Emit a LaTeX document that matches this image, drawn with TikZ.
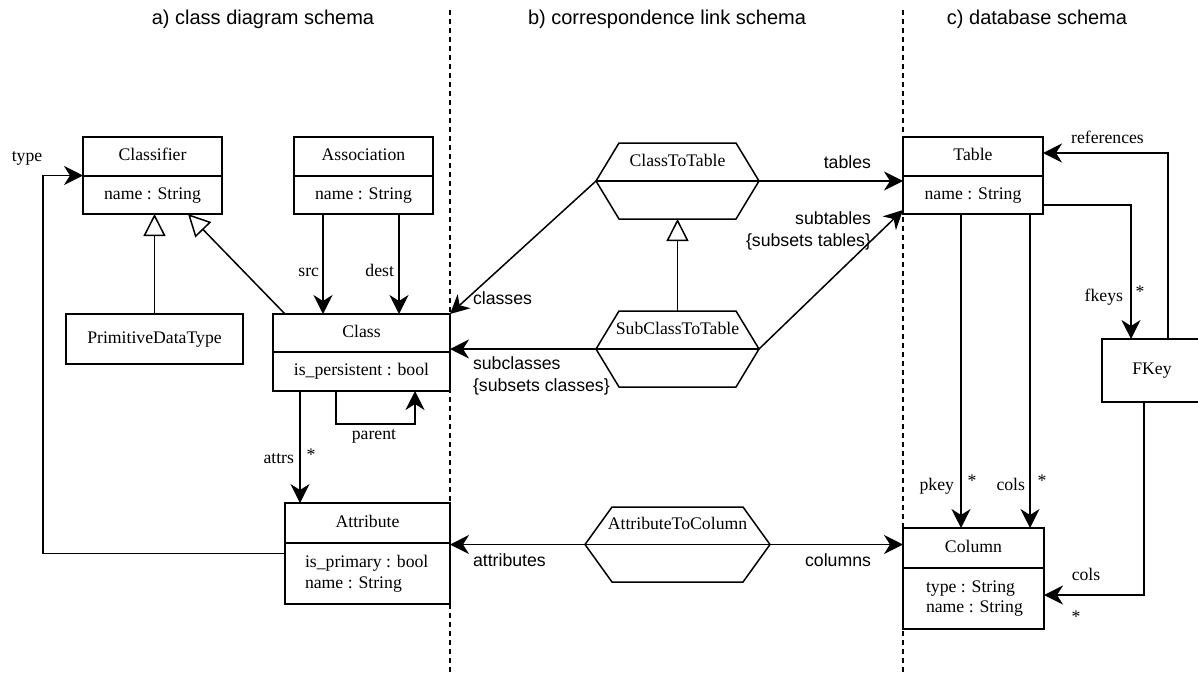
\documentclass[tikz,border=0pt]{standalone}
\usepackage{fontspec}
\setmainfont{Liberation Serif}
\setsansfont{Liberation Sans}
\usetikzlibrary{arrows.meta,calc}
\newcommand\hexdraw[2]{%
  \draw (#1.west) -- ($(#1.north west)+(#2,0)$) -- ($(#1.north east)+(-#2,0)$) -- (#1.east)
        -- ($(#1.south east)+(-#2,0)$) -- ($(#1.south west)+(#2,0)$) -- cycle;
  \draw (#1.west) -- (#1.east);}
\begin{document}
\begin{tikzpicture}[x=1pt,y=-1pt,
  line width=1.5pt,
  every node/.style={inner sep=0pt, outer sep=0pt},
  serif/.style={font=\fontsize{17.7}{21}\selectfont, text height=12.2pt, text depth=3.8pt},
  sans/.style={font=\sffamily\fontsize{17.7}{21}\selectfont, text height=12.7pt, text depth=3.7pt},
  title/.style={font=\sffamily\fontsize{20}{24}\selectfont},
  umlbox/.style={draw, rectangle},
  hexnode/.style={rectangle},
  arr/.style={-{Stealth[length=19pt,width=19pt,inset=6pt]}},
  gen/.style={-{Triangle[length=22pt,width=22pt,fill=white]}},
  divider/.style={dash pattern=on 5pt off 4pt},
]
\useasboundingbox (0,0) rectangle (1198,673);

% titles and separators
\node[title] (ta) at (263,19) {a) class diagram schema};
\node[title] (tb) at (667,19) {b) correspondence link schema};
\node[title] (tc) at (1037,19) {c) database schema};
\draw[divider] (450,10) -- (450,673);
\draw[divider] (903,10) -- (903,673);

% class diagram schema
\node[umlbox, minimum width=139pt, minimum height=77pt] (classifier) at (152.5,175.5) {};
\draw (classifier.west |- 0,176) -- (classifier.east |- 0,176);
\node[serif] (classifierT) at (152.5,156.5) {Classifier};
\node[serif] (classifierA) at (152.5,195.5) {name : String};

\node[umlbox, minimum width=139pt, minimum height=77pt] (assoc) at (363.5,175.5) {};
\draw (assoc.west |- 0,176) -- (assoc.east |- 0,176);
\node[serif] (assocT) at (363.5,156.5) {Association};
\node[serif] (assocA) at (363.5,195.5) {name : String};

\node[umlbox, minimum width=177pt, minimum height=50pt] (pdt) at (154.5,339) {};
\node[serif] (pdtT) at (154.5,339) {PrimitiveDataType};

\node[umlbox, minimum width=177pt, minimum height=77pt] (class) at (361.5,352.5) {};
\draw (class.west |- 0,352) -- (class.east |- 0,352);
\node[serif] (classT) at (361.5,333) {Class};
\node[serif] (classA) at (361.5,371.5) {is\_persistent : bool};

\node[umlbox, minimum width=165pt, minimum height=101pt] (attribute) at (367.5,553.5) {};
\draw (attribute.west |- 0,543) -- (attribute.east |- 0,543);
\node[serif] (attributeT) at (367.5,523) {Attribute};
\node[serif, anchor=west] (attributeA1) at (305,563) {is\_primary : bool};
\node[serif, anchor=west] (attributeA2) at (305,584) {name : String};

% correspondence link schema
\node[hexnode, minimum width=163pt, minimum height=76pt] (c2t) at (677.5,181) {};
\hexdraw{c2t}{23}
\node[serif] (c2tT) at (677.5,162) {ClassToTable};

\node[hexnode, minimum width=163pt, minimum height=76pt] (sc2t) at (677.5,349) {};
\hexdraw{sc2t}{23}
\node[serif] (sc2tT) at (677.5,330) {SubClassToTable};

\node[hexnode, minimum width=185pt, minimum height=75pt] (a2c) at (677.5,544.5) {};
\hexdraw{a2c}{27}
\node[serif] (a2cT) at (677.5,525.5) {AttributeToColumn};

% database schema
\node[umlbox, minimum width=140pt, minimum height=77pt] (table) at (973,175.5) {};
\draw (table.west |- 0,176) -- (table.east |- 0,176);
\node[serif] (tableT) at (973,156.5) {Table};
\node[serif] (tableA) at (973,195.5) {name : String};

\node[umlbox, minimum width=141pt, minimum height=101pt] (column) at (973.5,578.5) {};
\draw (column.west |- 0,568) -- (column.east |- 0,568);
\node[serif] (columnT) at (973.5,548) {Column};
\node[serif, anchor=west] (columnA1) at (926,588) {type : String};
\node[serif, anchor=west] (columnA2) at (926,608) {name : String};

\node[umlbox, minimum width=100pt, minimum height=63pt] (fkey) at (1152,370.5) {};
\node[serif] (fkeyT) at (1152,370.5) {FKey};

% connectors: class diagram
\draw[gen] (pdt.north) -- (pdt.north |- classifier.south);
\coordinate (clsG) at ($(class.north west)+(12,0)$);
\coordinate (cfrG) at ($(classifier.south)+(35.5,0)$);
\draw[gen] (clsG) -- (cfrG);

\coordinate (srcA) at ($(assoc.south)+(-40.5,0)$);
\draw[arr] (srcA) -- (srcA |- class.north);
\node[serif, anchor=east] (srcL) at (319,272) {src};
\coordinate (dstA) at ($(assoc.south)+(35.5,0)$);
\draw[arr] (dstA) -- (dstA |- class.north);
\node[serif, anchor=east] (dstL) at (394,272) {dest};

\draw[arr] (attribute.west) -- ++(-242,0) |- (classifier.west);
\node[serif] (typeL) at (27,157) {type};

\coordinate (pA) at ($(class.south)+(-25.5,0)$);
\coordinate (pB) at ($(class.south)+(53.5,0)$);
\draw[arr] (pA) -- ++(0,33) -| (pB);
\node[serif] (parentL) at (374,435) {parent};

\coordinate (atA) at ($(class.south)+(-61.5,0)$);
\draw[arr] (atA) -- (atA |- attribute.north);
\node[serif, anchor=east] (attrsL) at (294,459) {attrs};
\node[serif] (attrsM) at (311,456) {*};

% connectors: correspondence links
\draw[arr] (c2t.west) -- (class.north east);
\node[sans, anchor=west] (classesL) at (473,300) {classes};
\draw[arr] (sc2t.west) -- (class.east |- sc2t.west);
\node[sans, anchor=west] (subclL1) at (473,365) {subclasses};
\node[sans, anchor=west] (subclL2) at (473,387) {\{subsets classes\}};
\draw[arr] (c2t.east) -- (table.west |- c2t.east);
\node[sans, anchor=east] (tablesL) at (871,164) {tables};
\coordinate (stB) at ($(table.south west)+(0,-4)$);
\draw[arr] (sc2t.east) -- (stB);
\node[sans, anchor=east] (subtL1) at (871,220) {subtables};
\node[sans, anchor=east] (subtL2) at (871,242) {\{subsets tables\}};
\draw[gen] (sc2t.north) -- (c2t.south);
\draw[arr] (a2c.west) -- (attribute.east |- a2c.west);
\node[sans, anchor=west] (attributesL) at (473,562) {attributes};
\draw[arr] (a2c.east) -- (column.west |- a2c.east);
\node[sans, anchor=east] (columnsL) at (871,562) {columns};

% connectors: database schema
\coordinate (pk) at ($(table.south)+(-12,0)$);
\draw[arr] (pk) -- (pk |- column.north);
\node[serif, anchor=east] (pkeyL) at (954,486) {pkey};
\node[serif] (pkeyM) at (972,482) {*};
\coordinate (cl) at ($(table.south)+(57,0)$);
\draw[arr] (cl) -- (cl |- column.north);
\node[serif, anchor=east] (colsL) at (1025,486) {cols};
\node[serif] (colsM) at (1042,482) {*};

\coordinate (fkA) at ($(table.east)+(0,29.5)$);
\coordinate (fkB) at ($(fkey.north)+(-21,0)$);
\draw[arr] (fkA) -| (fkB);
\node[serif, anchor=east] (fkeysL) at (1123,297) {fkeys};
\node[serif] (fkeysM) at (1140,293) {*};

\coordinate (rfA) at ($(fkey.north)+(16,0)$);
\coordinate (rfB) at ($(table.east)+(0,-22.5)$);
\draw[arr] (rfA) |- (rfB);
\node[serif] (refL) at (1107.5,139) {references};

\coordinate (fcA) at ($(fkey.south)+(-8,0)$);
\coordinate (fcB) at ($(column.east)+(0,16.5)$);
\draw[arr] (fcA) |- (fcB);
\node[serif] (fcolsL) at (1086,576) {cols};
\node[serif] (fcolsM) at (1076,618) {*};
\end{tikzpicture}
\end{document}
